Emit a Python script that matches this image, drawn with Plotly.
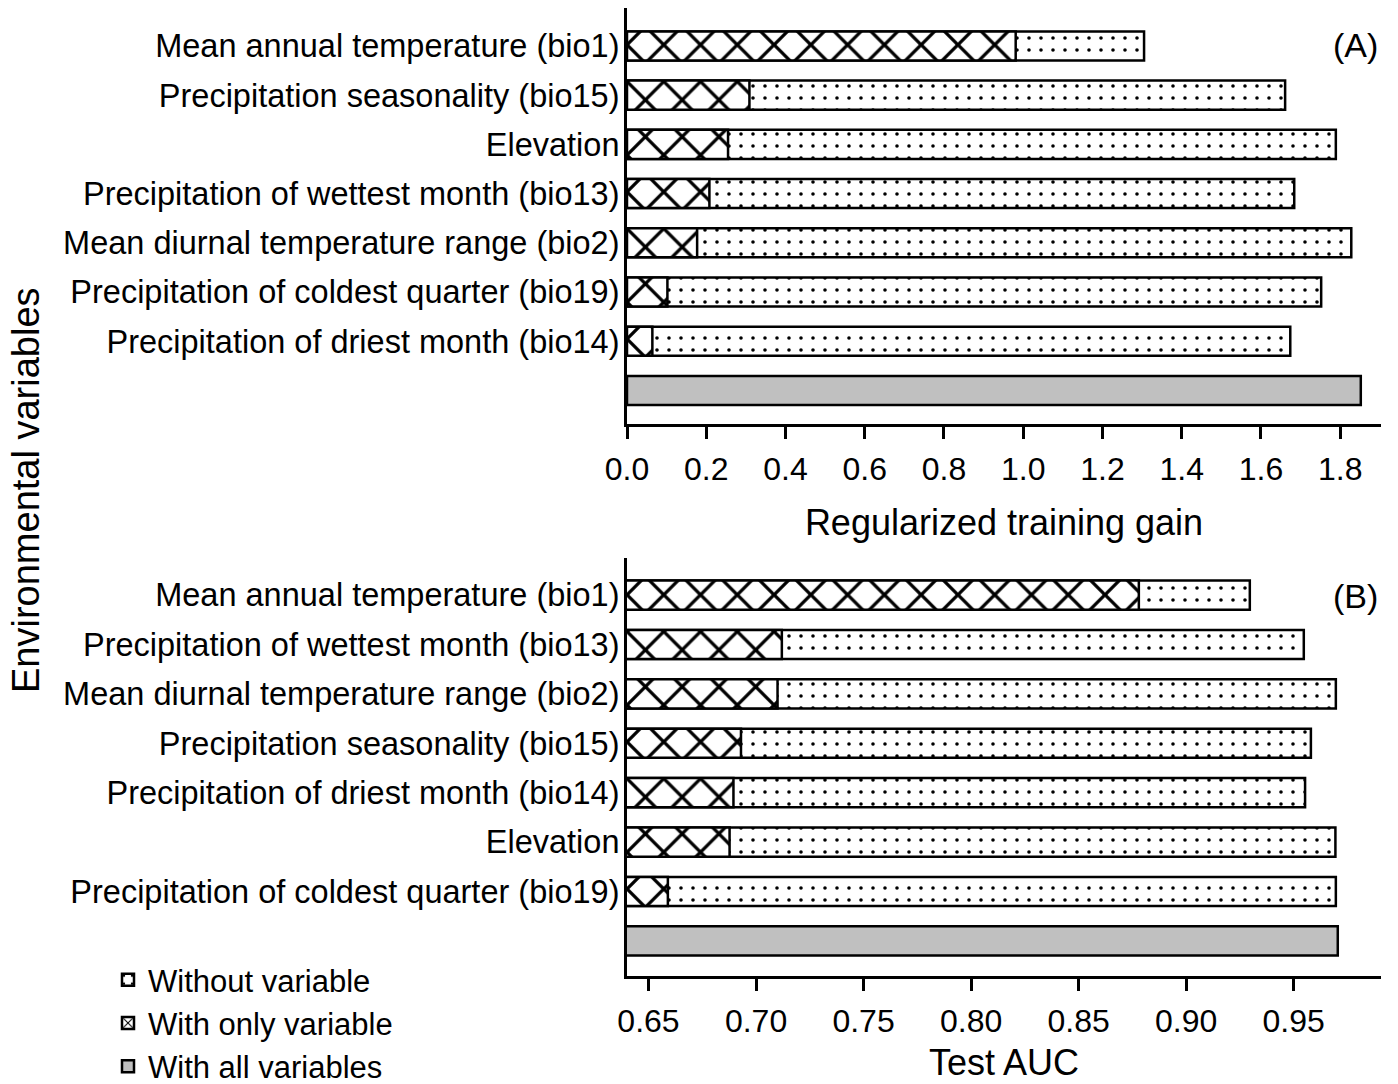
import plotly.graph_objects as go

# ---------------- data ----------------
A_labels = ["Mean annual temperature (bio1)", "Precipitation seasonality (bio15)", "Elevation",
            "Precipitation of wettest month (bio13)", "Mean diurnal temperature range (bio2)",
            "Precipitation of coldest quarter (bio19)", "Precipitation of driest month (bio14)"]
A_without = [1.305, 1.661, 1.789, 1.684, 1.828, 1.752, 1.674]
A_only = [0.981, 0.309, 0.255, 0.208, 0.177, 0.102, 0.064]
A_all = 1.852

B_labels = ["Mean annual temperature (bio1)", "Precipitation of wettest month (bio13)",
            "Mean diurnal temperature range (bio2)", "Precipitation seasonality (bio15)",
            "Precipitation of driest month (bio14)", "Elevation",
            "Precipitation of coldest quarter (bio19)"]
B_without = [0.9296, 0.9547, 0.9696, 0.9580, 0.9553, 0.9694, 0.9696]
B_only = [0.878, 0.712, 0.710, 0.693, 0.6895, 0.6877, 0.659]
B_all = 0.9705

A_ticks = [0.0, 0.2, 0.4, 0.6, 0.8, 1.0, 1.2, 1.4, 1.6, 1.8]
B_ticks = [0.65, 0.70, 0.75, 0.80, 0.85, 0.90, 0.95]

legend_names = ["Without variable", "With only variable", "With all variables"]

# ---------------- styling ----------------
FONT = "Liberation Sans, Arial, sans-serif"
W, H = 1398, 1084
BAR_W = 0.59
LINE = dict(color="black", width=2.5)
dot_pattern = dict(shape=".", fgcolor="black", fgopacity=1, size=12, solidity=0.07, fillmode="overlay")
x_pattern = dict(shape="x", fgcolor="black", fgopacity=1, size=26, solidity=0.24, fillmode="overlay")

fig = go.Figure()


def add_panel(labels, without, only, all_val, xa, ya, show_legend):
    pos = list(range(len(labels)))
    fig.add_trace(go.Bar(
        x=without, y=pos, orientation="h", width=BAR_W,
        marker=dict(color="white", line=LINE, pattern=dot_pattern),
        name=legend_names[0], showlegend=show_legend, legendrank=1,
        xaxis=xa, yaxis=ya))
    fig.add_trace(go.Bar(
        x=only, y=pos, orientation="h", width=BAR_W,
        marker=dict(color="white", line=LINE, pattern=x_pattern),
        name=legend_names[1], showlegend=show_legend, legendrank=2,
        xaxis=xa, yaxis=ya))
    fig.add_trace(go.Bar(
        x=[all_val], y=[len(labels)], orientation="h", width=BAR_W,
        marker=dict(color="#c0c0c0", line=LINE),
        name=legend_names[2], showlegend=show_legend, legendrank=3,
        xaxis=xa, yaxis=ya))


add_panel(A_labels, A_without, A_only, A_all, "x", "y", True)
add_panel(B_labels, B_without, B_only, B_all, "x2", "y2", False)

xdom = [627 / W, 1381 / W]
yA = [1 - 424 / H, 1 - 8 / H]
yB = [1 - 976 / H, 1 - 558 / H]

common_x = dict(showline=True, linecolor="black", linewidth=3, ticks="outside", ticklen=12,
                tickwidth=2.5, tickcolor="black", showgrid=False, zeroline=False,
                tickfont=dict(family=FONT, size=32, color="black"), automargin=False,
                ticklabelstandoff=3)
common_y = dict(showline=True, linecolor="black", linewidth=3, ticks="", showgrid=False,
                zeroline=False, tickfont=dict(family=FONT, size=32.5, color="black"),
                automargin=False, ticklabelstandoff=-2)

fig.update_layout(
    width=W, height=H, autosize=False,
    margin=dict(l=0, r=0, t=0, b=0, autoexpand=False),
    paper_bgcolor="white", plot_bgcolor="white",
    barmode="overlay",
    font=dict(family=FONT, color="black"),
    showlegend=True,
    legend=dict(x=108 / W, y=1 - 1023 / H, xanchor="left", yanchor="middle",
                font=dict(family=FONT, size=31, color="black"),
                bgcolor="rgba(0,0,0,0)", traceorder="normal",
                tracegroupgap=0),
    xaxis=dict(domain=xdom, anchor="y", range=[0, 1.903], tickvals=A_ticks,
               ticktext=[f"{v:.1f}" for v in A_ticks],
               title=dict(text="Regularized training gain", standoff=24,
                          font=dict(family=FONT, size=36, color="black")),
               **common_x),
    yaxis=dict(domain=yA, anchor="x", range=[len(A_labels) + 0.68, -0.77],
               tickvals=list(range(len(A_labels))), ticktext=A_labels, **common_y),
    xaxis2=dict(domain=xdom, anchor="y2", range=[0.64, 0.9906], tickvals=B_ticks,
                ticktext=[f"{v:.2f}" for v in B_ticks],
                **common_x),
    yaxis2=dict(domain=yB, anchor="x2", range=[len(B_labels) + 0.71, -0.75],
                tickvals=list(range(len(B_labels))), ticktext=B_labels, **common_y),
)

fig.add_annotation(text="Test AUC", x=1004 / W, y=1 - 1062 / H, xref="paper", yref="paper",
                   xanchor="center", yanchor="middle",
                   showarrow=False, font=dict(family=FONT, size=36, color="black"))
fig.add_annotation(text="Environmental variables", x=26 / W, y=1 - 490 / H, xref="paper", yref="paper",
                   xanchor="center", yanchor="middle",
                   textangle=-90, showarrow=False, font=dict(family=FONT, size=38, color="black"))
fig.add_annotation(text="(A)", x=1355 / W, y=1 - 45 / H, xref="paper", yref="paper",
                   xanchor="center", yanchor="middle",
                   showarrow=False, font=dict(family=FONT, size=34, color="black"))
fig.add_annotation(text="(B)", x=1355 / W, y=1 - 596 / H, xref="paper", yref="paper",
                   xanchor="center", yanchor="middle",
                   showarrow=False, font=dict(family=FONT, size=34, color="black"))

fig.write_html("out.html", config={"responsive": False, "displayModeBar": False},
               post_script="document.body.style.margin='0px';document.body.style.overflow='hidden';")
